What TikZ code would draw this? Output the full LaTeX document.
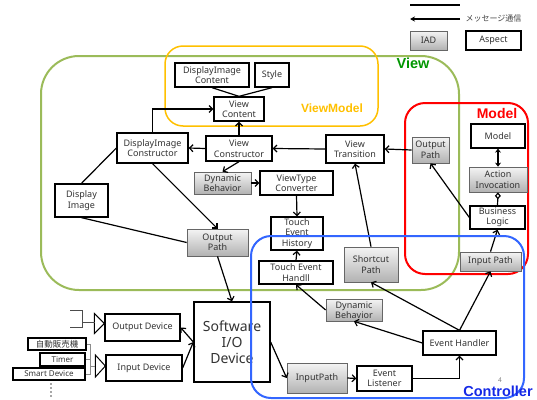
\documentclass[tikz,border=0pt]{standalone}
\usepackage{fontspec}
\setmainfont{Noto Sans}
\newfontfamily\jpfont{Noto Sans CJK JP}
\newfontfamily\lblfont{Liberation Sans}
\usetikzlibrary{arrows.meta,shadows,calc}
\definecolor{viewgreen}{RGB}{155,187,89}
\definecolor{viewlabel}{RGB}{0,150,0}
\definecolor{vmyellow}{RGB}{255,192,0}
\definecolor{ctrlblue}{RGB}{51,102,255}
\definecolor{ctrllabel}{RGB}{20,40,230}
\definecolor{gtop}{RGB}{244,244,244}
\definecolor{gbot}{RGB}{178,178,178}
\tikzset{
  wbox/.style={draw=black, line width=1.3pt, fill=white, align=center, inner sep=0pt,
    font=\fontsize{9}{10.5}\selectfont, text=black!80},
  gbox/.style={draw=black!60, line width=0.7pt, top color=gtop, bottom color=gbot, align=center,
    inner sep=0pt, font=\fontsize{9}{10.5}\selectfont, text=black!80,
    drop shadow={shadow xshift=0.8pt, shadow yshift=-0.8pt, opacity=0.3}},
  sbox/.style={draw=black, line width=1.3pt, fill=white, align=center, inner sep=0pt,
    font=\fontsize{8}{9}\selectfont, text=black!80},
  conn/.style={line width=1.2pt},
  arr/.style={conn, -{Straight Barb[length=3.5pt,width=7pt]}},
  thinl/.style={line width=0.6pt, draw=black!70},
  cont/.style={line width=2pt},
  lbl/.style={font=\lblfont\bfseries\fontsize{14.5}{15}\selectfont},
}
\begin{document}
\begin{tikzpicture}[x=1pt,y=-1pt]
\useasboundingbox (0,0) rectangle (537,399);

% containers (behind)
\draw[cont, viewgreen, rounded corners=38pt] (41,56) rectangle (459,290);
\draw[line width=1.5pt, vmyellow, rounded corners=18pt] (165,46) rectangle (378,126);
\draw[cont, red, rounded corners=20pt] (405,103) rectangle (528,274);

% legend
\coordinate (l1a) at (410,5); \coordinate (l1b) at (460,5);
\draw[conn] (l1a) -- (l1b);
\coordinate (l2a) at (460,19); \coordinate (l2b) at (410,19);
\draw[conn, -{Stealth[length=5pt,width=5pt]}] (l2a) -- (l2b);
\node[font=\jpfont\fontsize{8}{9}\selectfont, anchor=west, text=black!75] (msg) at (462,18) {メッセージ通信};
\node[gbox, minimum width=37, minimum height=19] (iad) at (428.5,40.5) {IAD};
\node[wbox, line width=1.6pt, minimum width=55, minimum height=19] (asp) at (493.5,40.5) {Aspect};

% View / ViewModel nodes
\node[wbox, minimum width=74, minimum height=24] (dic) at (212,75) {DisplayImage\\Content};
\node[wbox, minimum width=34, minimum height=24] (sty) at (272,75) {Style};
\node[wbox, minimum width=50, minimum height=24] (vc) at (239,109) {View\\Content};
\node[wbox, minimum width=71, minimum height=30] (dicon) at (152.5,148) {DisplayImage\\Constructor};
\node[wbox, minimum width=66, minimum height=25] (vcon) at (239,148.5) {View\\Constructor};
\node[wbox, minimum width=58, minimum height=28] (vt) at (355,149) {View\\Transition};
\node[gbox, minimum width=57, minimum height=22] (db1) at (222.5,183) {Dynamic\\Behavior};
\node[wbox, minimum width=73, minimum height=24] (vtc) at (296.5,183) {ViewType\\Converter};
\node[wbox, minimum width=52, minimum height=33] (teh) at (297,233.5) {Touch\\Event\\History};
\node[wbox, minimum width=74, minimum height=23] (tehd) at (296,272.5) {Touch Event\\Handll};
\node[wbox, minimum width=53, minimum height=33] (di) at (81.5,200.5) {Display\\Image};
\node[gbox, minimum width=61, minimum height=27] (op1) at (217.5,242.5) {Output\\Path};
\node[wbox, minimum width=76, minimum height=80, font=\fontsize{14}{16}\selectfont] (sio) at (232,342) {Software\\I/O\\Device};

% Controller nodes
\node[gbox, minimum width=54, minimum height=35] (sp) at (371,264.5) {Shortcut\\Path};
\node[gbox, minimum width=56, minimum height=22] (db2) at (354,310) {Dynamic\\Behavior};
\node[wbox, minimum width=73, minimum height=24] (eh) at (459.5,343) {Event Handler};
\node[gbox, minimum width=60, minimum height=30] (inp) at (317,378) {InputPath};
\node[wbox, minimum width=55, minimum height=25] (el) at (384.5,378.5) {Event\\Listener};

% Model nodes
\node[gbox, minimum width=61, minimum height=19] (ip) at (490.5,261.5) {Input Path};
\node[wbox, minimum width=55, minimum height=23] (bl) at (497.5,217.5) {Business\\Logic};
\node[gbox, minimum width=58, minimum height=25] (ai) at (498,179.5) {Action\\Invocation};
\node[wbox, minimum width=54, minimum height=24] (mdl) at (498,136) {Model};
\node[gbox, minimum width=37, minimum height=26] (op2) at (430.5,150) {Output\\Path};

% devices
\node[wbox, minimum width=75, minimum height=27] (od) at (142.5,327.5) {Output Device};
\node[wbox, minimum width=76, minimum height=26] (idv) at (144,368) {Input Device};
\node[sbox, minimum width=58, minimum height=12, font=\jpfont\fontsize{8.5}{9}\selectfont] (vend) at (57,344) {自動販売機};
\node[sbox, minimum width=45, minimum height=13] (tmr) at (62.5,359.5) {Timer};
\node[sbox, minimum width=72, minimum height=12] (sd) at (49,374) {Smart Device};

% connectors
\draw[conn] (dic.south) -- (vc.north);
\draw[conn] (sty.south) -- (vc.north);
\draw[arr] (vcon.north) -- (vc.south);
\draw[arr] (vt.west) -- (vcon.east);
\draw[arr] (op2.west) -- (vt.east);
\draw[arr] (vcon.west) -- (dicon.east);
\draw[arr] (dicon.north) |- (vc.west);
\draw[conn] (di.north) -- (dicon.west);
\draw[conn] (di.south) -- (op1.west);
\draw[arr] (dicon.south) -- (op1.north);
\draw[arr] (vcon.south) -- (db1.north);
\draw[arr] (db1.east) -- (vtc.west);
\draw[arr] (vtc.south) -- (teh.north);
\draw[arr] (tehd.north) -- (teh.south);
\draw[arr] (db2.west) -- (tehd.south);
\draw[arr] (eh.west) -- (db2.south);
\draw[arr] (eh.north) -- (sp.south);
\draw[arr] (eh.north) -- (ip.south);
\draw[arr] (ip.north) -- (bl.south);
\draw[arr] (bl.west) -- (op2.south);
\draw[arr] (sp.north) -- (vt.south);
\draw[arr] (op1.south) -- (sio.north);
\draw[arr] (sio.west) -- (od.east);
\draw[arr] (idv.east) -- (sio.west);
\draw[arr] (sio.east) -- (inp.west);
\draw[arr] (inp.east) -- (el.west);
\draw[arr] (el.east) -| (eh.south);
\draw[line width=2pt, {Stealth[length=4pt,width=6pt]}-{Stealth[length=4pt,width=6pt]}] (mdl.south) -- (ai.north);
\draw[conn, {Diamond[open,length=7pt,width=6pt]}-] (ai.south) -- (bl.north);

% device side symbols
\draw[line width=1pt] ([yshift=4pt]od.west) -- ++(-10,-10) -- ++(0,20) -- cycle;
\draw[line width=1pt] ([yshift=2pt]idv.west) -- ++(-10,-11) -- ++(0,22) -- cycle;
\draw[thinl] (70,310) -- (82,310) -- (82,327) -- (70,327);
\draw[thinl] (82,322) -- (95,322);
\draw[line width=0.5pt, black!45] (vend.east) -- (90,344) -- (90,374) -- (sd.east);
\draw[line width=0.5pt, black!45] (tmr.east) -- (90,359.5);
\draw[line width=0.5pt, black!45] (90,366) -- (95,366);
\foreach \yy in {384,388,392,396} \fill[black!70] (51,\yy) circle (0.8);

% controller container on top
\draw[cont, ctrlblue, rounded corners=20pt] (251,236) rectangle (524,398);

% labels
\node[lbl, text=viewlabel] (lview) at (413,63) {View};
\node[font=\lblfont\bfseries\fontsize{12}{13}\selectfont, text=vmyellow] (lvm) at (332,108) {ViewModel};
\node[lbl, font=\lblfont\bfseries\fontsize{14}{15}\selectfont, text=red] (lmodel) at (497,113) {Model};
\node[font=\fontsize{6.5}{7}\selectfont, text=black!50] (pg) at (500,380) {4};
\node[lbl, text=ctrllabel] (lctrl) at (498,391) {Controller};
\end{tikzpicture}
\end{document}
